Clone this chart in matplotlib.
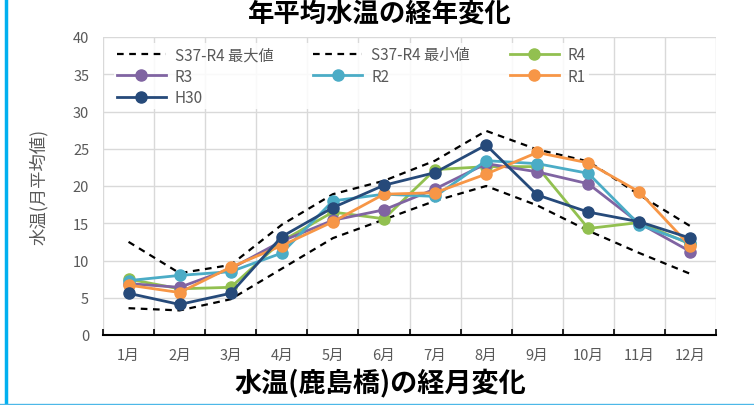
import matplotlib
matplotlib.use("Agg")
import matplotlib.pyplot as plt
from matplotlib.lines import Line2D
import numpy as np

plt.rcParams['font.family'] = ['Noto Sans CJK JP', 'DejaVu Sans']

months = ["1月", "2月", "3月", "4月", "5月", "6月", "7月", "8月", "9月", "10月", "11月", "12月"]
max_vals = [12.5, 8.3, 9.4, 14.8, 18.9, 20.7, 23.4, 27.4, 24.9, 23.3, 18.8, 14.6]
min_vals = [3.6, 3.3, 4.8, 8.9, 13.0, 15.5, 18.0, 20.0, 17.4, 14.0, 11.0, 8.2]
r4 = [7.5, 6.2, 6.4, 12.6, 16.5, 15.6, 22.2, 22.6, 22.6, 14.3, 15.1, 12.2]
r3 = [6.9, 6.4, 8.9, 12.6, 15.4, 16.8, 19.6, 23.0, 21.9, 20.3, 15.0, 11.2]
r2 = [7.3, 8.0, 8.5, 11.0, 18.0, 18.9, 18.6, 23.4, 23.0, 21.7, 14.8, 12.3]
r1 = [6.7, 5.7, 9.1, 12.0, 15.2, 18.9, 19.1, 21.6, 24.5, 23.1, 19.2, 11.9]
h30 = [5.6, 4.1, 5.6, 13.2, 17.1, 20.1, 21.8, 25.5, 18.8, 16.5, 15.2, 13.0]

series = [
    ("R4", r4, "#92C050"),
    ("R3", r3, "#8064A2"),
    ("R2", r2, "#4BACC6"),
    ("R1", r1, "#F79646"),
    ("H30", h30, "#264A7A"),
]

fig = plt.figure(figsize=(7.54, 4.06), dpi=100)
ax = fig.add_axes([103/754, 1-336/406, (716-103)/754, (336-38)/406])

x = np.arange(len(months))
ax.plot(x, max_vals, color="black", lw=1.6, ls=(0, (3, 2.5)), label="S37-R4 最大値", zorder=3)
ax.plot(x, min_vals, color="black", lw=1.6, ls=(0, (3, 2.5)), label="S37-R4 最小値", zorder=3)
handles = {}
for name, vals, col in series:
    ln, = ax.plot(x, vals, color=col, lw=2.0, marker="o", markersize=8, label=name, zorder=4)
    handles[name] = ln

ax.set_xlim(-0.5, 11.5)
ax.set_ylim(0, 40)
ax.set_yticks(np.arange(0, 41, 5))
ax.set_xticks(x)
ax.set_xticklabels(months)
ax.set_xticks(np.arange(-0.5, 12, 1), minor=True)
ax.grid(True, which="major", axis="y", color="#D9D9D9", lw=1)
ax.grid(True, which="minor", axis="x", color="#D9D9D9", lw=1)
ax.set_axisbelow(True)
for s in ["top", "left", "right"]:
    ax.spines[s].set_visible(False)
ax.spines["bottom"].set_color("black")
ax.spines["bottom"].set_linewidth(1.5)
ax.tick_params(axis="x", which="major", length=0, labelsize=10.5, labelcolor="#595959", pad=9)
ax.tick_params(axis="x", which="minor", length=4, width=1.2, direction="in", color="black")
ax.tick_params(axis="y", length=0, labelsize=10.5, labelcolor="#595959", pad=10)
ax.set_ylabel("水温(月平均値)", fontsize=12.5, color="#595959", labelpad=18)

hl = ax.get_lines()
order = [hl[0], handles["R3"], handles["H30"], hl[1], handles["R2"], handles["R4"], handles["R1"]]
leg = ax.legend(order, [h.get_label() for h in order], ncol=3, loc="upper left",
                bbox_to_anchor=(0.005, 1.005), frameon=True, fontsize=11,
                handlelength=3.2, columnspacing=2.6, handletextpad=0.6,
                labelspacing=0.3, borderpad=0.2, labelcolor="#595959")
leg.get_frame().set_facecolor("white")
leg.get_frame().set_alpha(0.85)
leg.get_frame().set_linewidth(0)

fig.text(380/754, 1-14/406, "年平均水温の経年変化", ha="center", va="center",
         fontsize=19, fontweight="bold", color="black")
fig.text(380/754, 1-384/406, "水温(鹿島橋)の経月変化", ha="center", va="center",
         fontsize=19.5, fontweight="bold", color="black")

fig.add_artist(Line2D([5.5/754, 5.5/754], [0, 1], color="#00B0F0", lw=2.5, transform=fig.transFigure))
fig.add_artist(Line2D([0, 1], [1.5/406, 1.5/406], color="#4DB8E8", lw=1.0, transform=fig.transFigure))

fig.savefig("out.png", dpi=100)
